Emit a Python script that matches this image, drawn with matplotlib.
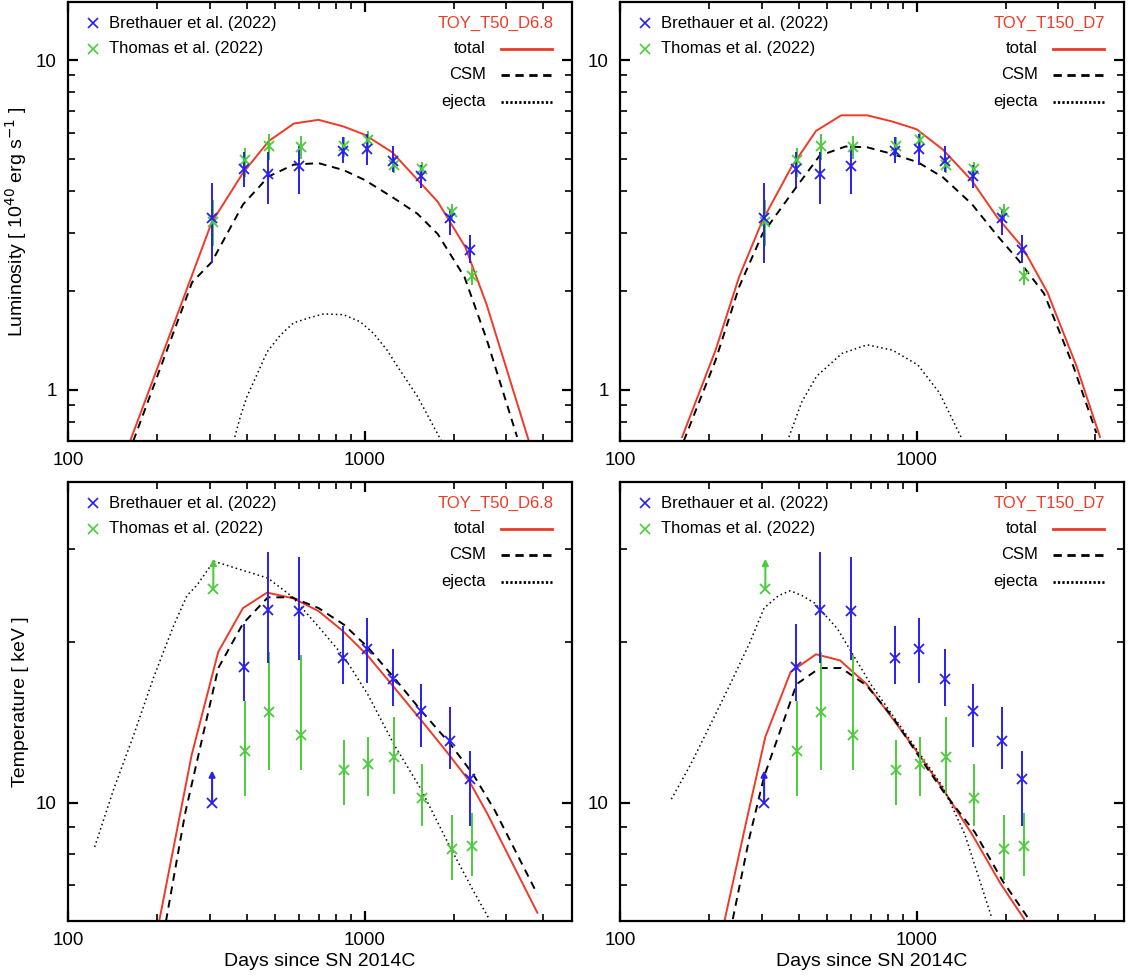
import numpy as np
import matplotlib.pyplot as plt
from matplotlib.ticker import FuncFormatter, NullFormatter, LogLocator

plt.rcParams['font.family'] = ['Liberation Sans', 'DejaVu Sans']

BLUE = '#2a1ff0'
GREEN = '#4ccc3a'
RED = '#ee3a26'

# observations: days since SN 2014C
bre_day = [306, 391, 472, 600, 847, 1018, 1246, 1546, 1938, 2264]
tho_day = [309, 396, 477, 609, 855, 1028, 1255, 1561, 1968, 2300]

# luminosity [1e40 erg/s]
bre_lum = [3.32, 4.67, 4.50, 4.78, 5.31, 5.37, 4.96, 4.44, 3.32, 2.66]
bre_lum_lo = [2.43, 4.13, 3.66, 3.93, 4.86, 4.81, 4.57, 4.09, 2.94, 2.42]
bre_lum_hi = [4.23, 5.25, 5.25, 5.50, 5.85, 5.98, 5.47, 4.82, 3.54, 2.94]
tho_lum = [3.22, 4.98, 5.47, 5.44, 5.47, 5.73, 4.82, 4.67, 3.46, 2.21]
tho_lum_lo = [2.74, 4.41, 4.98, 5.00, 5.10, 5.35, 4.55, 4.45, 3.30, 2.08]
tho_lum_hi = [3.76, 5.40, 5.95, 5.89, 5.85, 6.10, 5.10, 4.92, 3.65, 2.36]

# temperature [keV]; first point of each set is a lower limit
bre_kT = [10.0, 18.0, 23.0, 22.9, 18.7, 19.4, 17.1, 14.9, 13.05, 11.1]
bre_kT_lo = [10.0, 15.5, 18.3, 18.5, 16.7, 16.8, 15.2, 12.7, 11.55, 9.06]
bre_kT_hi = [11.5, 21.7, 29.6, 28.9, 21.5, 22.2, 19.4, 16.7, 15.1, 12.5]
tho_kT = [25.2, 12.5, 14.8, 13.4, 11.5, 11.8, 12.2, 10.2, 8.19, 8.28]
tho_kT_lo = [25.2, 10.3, 11.5, 11.5, 9.9, 10.3, 10.4, 9.06, 7.17, 7.28]
tho_kT_hi = [28.7, 15.5, 19.2, 18.9, 13.1, 13.3, 14.5, 11.8, 9.49, 9.57]

# model TOY_T50_D6.8 - luminosity
t50_lum_tot_day = [162, 262, 305, 389, 475, 577, 699, 849, 1000, 1240, 1763, 2185, 2580, 3577]
t50_lum_tot = [0.70, 2.23, 3.22, 4.55, 5.68, 6.42, 6.59, 6.29, 5.94, 5.25, 3.72, 2.71, 1.81, 0.70]
t50_lum_csm_day = [166, 262, 305, 389, 475, 577, 699, 849, 1000, 1240, 1507, 1763, 2170, 2580, 3265]
t50_lum_csm = [0.70, 2.12, 2.44, 3.65, 4.44, 4.82, 4.87, 4.64, 4.33, 3.84, 3.42, 2.97, 2.20, 1.42, 0.72]
t50_lum_ej_day = [365, 381, 401, 428, 469, 520, 576, 656, 728, 850, 967, 1072, 1190, 1302, 1507, 1815]
t50_lum_ej = [0.72, 0.83, 0.954, 1.085, 1.305, 1.466, 1.597, 1.658, 1.70, 1.69, 1.608, 1.483, 1.32, 1.163, 0.955, 0.70]

# model TOY_T150_D7 - luminosity
t150_lum_tot_day = [162, 210, 252, 302, 378, 458, 557, 681, 829, 1000, 1227, 1535, 1867, 2272, 2764, 3459, 4150]
t150_lum_tot = [0.72, 1.32, 2.20, 3.26, 4.73, 6.10, 6.80, 6.80, 6.51, 6.17, 5.35, 4.31, 3.34, 2.71, 1.97, 1.18, 0.72]
t150_lum_csm_day = [164, 210, 252, 302, 389, 471, 576, 681, 829, 1010, 1227, 1535, 1867, 2207, 2688, 3374, 4036]
t150_lum_csm = [0.70, 1.23, 2.05, 2.97, 4.07, 5.13, 5.47, 5.44, 5.19, 4.90, 4.41, 3.66, 2.94, 2.47, 1.96, 1.18, 0.74]
t150_lum_ej_day = [371, 410, 460, 560, 681, 829, 1010, 1193, 1411]
t150_lum_ej = [0.72, 0.92, 1.10, 1.29, 1.37, 1.32, 1.19, 0.98, 0.72]

# model TOY_T50_D6.8 - temperature
t50_kT_tot_day = [203, 261, 321, 389, 469, 574, 699, 845, 1023, 1253, 1549, 1894, 2249, 2594, 3820]
t50_kT_tot = [6.0, 12.28, 19.2, 23.2, 24.8, 24.2, 22.9, 21.0, 18.9, 16.5, 14.3, 12.45, 11.0, 9.53, 6.22]
t50_kT_csm_day = [214, 248, 321, 389, 472, 568, 699, 851, 1023, 1253, 1549, 1943, 2323, 2748, 3820]
t50_kT_csm = [6.0, 9.53, 17.9, 21.7, 24.3, 24.3, 23.2, 21.6, 19.6, 17.2, 14.9, 12.9, 11.3, 9.67, 6.74]
t50_kT_ej_day = [123, 142.5, 166.5, 194.4, 227, 252, 272, 310, 472, 568, 699, 851, 1023, 1253, 1549, 1943, 2323, 2630]
t50_kT_ej = [8.26, 10.6, 13.4, 17.2, 21.5, 24.5, 25.6, 28.4, 26.4, 24.4, 21.4, 18.8, 16.0, 12.9, 10.6, 8.25, 6.84, 6.05]

# model TOY_T150_D7 - temperature
t150_kT_tot_day = [225, 267, 309, 376, 458, 552, 678, 829, 1010, 1227, 1535, 1921, 2304]
t150_kT_tot = [6.0, 9.26, 13.3, 17.6, 19.0, 18.5, 16.7, 14.4, 12.4, 10.6, 8.74, 7.04, 6.05]
t150_kT_csm_day = [240, 273, 306, 394, 471, 557, 678, 829, 1010, 1245, 1570, 1947, 2370]
t150_kT_csm = [6.05, 8.6, 11.2, 16.7, 17.9, 17.9, 16.6, 14.5, 12.3, 10.4, 8.81, 7.14, 6.09]
t150_kT_ej_day = [149, 173, 201, 234, 273, 306, 343, 375, 410, 453, 541, 700, 852, 1010, 1227, 1452, 1790]
t150_kT_ej = [10.16, 11.8, 13.96, 16.6, 19.9, 23.2, 24.5, 25.0, 24.5, 23.7, 21.2, 16.7, 14.3, 12.5, 10.7, 8.74, 6.09]

W, H = 1128, 976
fig = plt.figure(figsize=(W / 100, H / 100), dpi=100)


def box(l, t, r, b):
    return [l / W, 1 - b / H, (r - l) / W, (b - t) / H]


fmt = FuncFormatter(lambda v, p: '%g' % v)


def style(ax, ylim):
    ax.set_xscale('log')
    ax.set_yscale('log')
    ax.set_xlim(100, 5000)
    ax.set_ylim(*ylim)
    for s in ax.spines.values():
        s.set_linewidth(1.6)
    ax.xaxis.set_major_formatter(fmt)
    ax.yaxis.set_major_formatter(fmt)
    ax.xaxis.set_minor_formatter(NullFormatter())
    ax.yaxis.set_minor_formatter(NullFormatter())
    ax.yaxis.set_minor_locator(LogLocator(base=10, subs=np.arange(2, 10)))
    ax.xaxis.set_minor_locator(LogLocator(base=10, subs=np.arange(2, 10)))
    ax.tick_params(which='both', direction='in', top=True, right=True, labelsize=13.5)
    ax.tick_params(which='major', length=7.5, width=1.6, pad=8)
    ax.tick_params(which='minor', length=5, width=1.2)


def legend(ax, model):
    tr = ax.transAxes
    ax.plot([0.0505], [0.952], 'x', color=BLUE, ms=7, mew=1.2, transform=tr)
    ax.plot([0.0505], [0.893], 'x', color=GREEN, ms=7, mew=1.2, transform=tr)
    ax.text(0.081, 0.952, 'Brethauer et al. (2022)', transform=tr, va='center', fontsize=12)
    ax.text(0.081, 0.893, 'Thomas et al. (2022)', transform=tr, va='center', fontsize=12)
    ax.text(0.963, 0.952, model, transform=tr, va='center', ha='right', fontsize=12, color=RED)
    rows = [('total', 0.893, dict(color=RED, ls='-')),
            ('CSM', 0.834, dict(color='black', ls=(0, (3, 2)))),
            ('ejecta', 0.773, dict(color='black', ls=(0, (0.8, 0.8))))]
    for name, y, kw in rows:
        ax.text(0.829, y, name, transform=tr, va='center', ha='right', fontsize=12)
        ax.plot([0.86, 0.961], [y, y], transform=tr, lw=2, **kw)


def obs(ax, day, val, lo, hi, color, first_limit):
    day = np.array(day); val = np.array(val); lo = np.array(lo); hi = np.array(hi)
    s = 1 if first_limit else 0
    ax.errorbar(day[s:], val[s:], yerr=[val[s:] - lo[s:], hi[s:] - val[s:]], fmt='x',
                color=color, ms=7.5, mew=1.3, elinewidth=1.4, capsize=0, zorder=3)
    if first_limit:
        ax.plot(day[:1], val[:1], 'x', color=color, ms=7.5, mew=1.3, zorder=3)
        ax.annotate('', xy=(day[0], hi[0]), xytext=(day[0], val[0]),
                    arrowprops=dict(arrowstyle='-|>', color=color, lw=1.5,
                                    mutation_scale=9, shrinkA=0, shrinkB=0))


def models(ax, tot_d, tot, csm_d, csm, ej_d, ej):
    ax.plot(tot_d, tot, color=RED, lw=1.4, zorder=2)
    ax.plot(csm_d, csm, color='black', lw=1.4, ls=(0, (4, 3)), zorder=2)
    ax.plot(ej_d, ej, color='black', lw=1.1, ls=(0, (1, 2)), zorder=2)


ax1 = fig.add_axes(box(68, 2, 572, 441))
ax2 = fig.add_axes(box(620, 2, 1124, 441))
ax3 = fig.add_axes(box(68, 482, 572, 921))
ax4 = fig.add_axes(box(620, 482, 1124, 921))

models(ax1, t50_lum_tot_day, t50_lum_tot, t50_lum_csm_day, t50_lum_csm, t50_lum_ej_day, t50_lum_ej)
models(ax2, t150_lum_tot_day, t150_lum_tot, t150_lum_csm_day, t150_lum_csm, t150_lum_ej_day, t150_lum_ej)
models(ax3, t50_kT_tot_day, t50_kT_tot, t50_kT_csm_day, t50_kT_csm, t50_kT_ej_day, t50_kT_ej)
models(ax4, t150_kT_tot_day, t150_kT_tot, t150_kT_csm_day, t150_kT_csm, t150_kT_ej_day, t150_kT_ej)

for ax in (ax1, ax2):
    obs(ax, tho_day, tho_lum, tho_lum_lo, tho_lum_hi, GREEN, False)
    obs(ax, bre_day, bre_lum, bre_lum_lo, bre_lum_hi, BLUE, False)
    style(ax, (0.7, 15))
for ax in (ax3, ax4):
    obs(ax, tho_day, tho_kT, tho_kT_lo, tho_kT_hi, GREEN, True)
    obs(ax, bre_day, bre_kT, bre_kT_lo, bre_kT_hi, BLUE, True)
    style(ax, (6, 40))
    ax.set_xlabel('Days since SN 2014C', fontsize=14, labelpad=3)

legend(ax1, 'TOY_T50_D6.8')
legend(ax2, 'TOY_T150_D7')
legend(ax3, 'TOY_T50_D6.8')
legend(ax4, 'TOY_T150_D7')

ax1.set_ylabel('Luminosity [ 10$^{40}$ erg s$^{-1}$ ]', fontsize=14)
ax3.set_ylabel('Temperature [ keV ]', fontsize=14)
ax1.yaxis.set_label_coords(-0.078, 0.5)
ax3.yaxis.set_label_coords(-0.078, 0.5)

fig.savefig('out.png', dpi=100)
